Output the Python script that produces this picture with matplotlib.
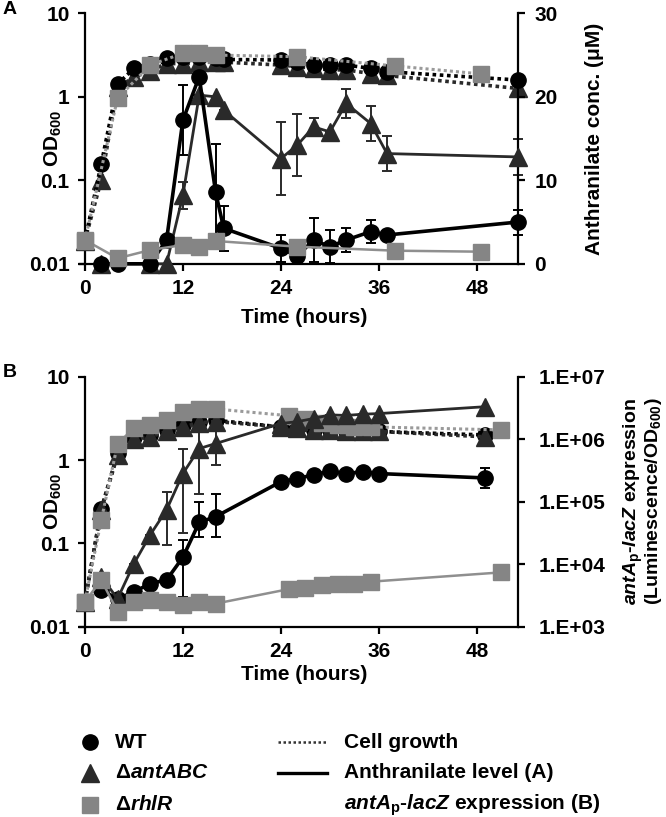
import matplotlib
matplotlib.use('Agg')
import matplotlib.pyplot as plt
from matplotlib.lines import Line2D
from matplotlib.ticker import FixedLocator, FixedFormatter, NullLocator

plt.rcParams['font.family'] = ['Liberation Sans', 'DejaVu Sans']
plt.rcParams['font.weight'] = 'bold'
plt.rcParams['mathtext.fontset'] = 'custom'
plt.rcParams['mathtext.rm'] = 'Liberation Sans:bold'
plt.rcParams['mathtext.it'] = 'Liberation Sans:italic:bold'
plt.rcParams['mathtext.bf'] = 'Liberation Sans:bold'
plt.rcParams['mathtext.default'] = 'rm'

# ---------------- Panel A data ----------------
tA_od = [0, 2, 4, 6, 8, 10, 12, 14, 16, 17, 24, 26, 28, 30, 32, 35, 37, 53]
odA_wt = [0.019, 0.157, 1.42, 2.19, 2.5, 2.89, 3.0, 3.0, 2.9, 2.8, 2.76, 2.6, 2.4, 2.4, 2.4, 2.19, 2.0, 1.59]
odA_ant = [0.019, 0.10, 1.3, 1.71, 2.06, 2.5, 2.5, 2.6, 2.6, 2.6, 2.4, 2.3, 2.2, 2.1, 2.1, 1.9, 1.8, 1.26]
tA_rhl_od = [0, 4, 8, 12, 14, 16, 26, 38, 48.5]
odA_rhl = [0.019, 0.96, 2.4, 3.32, 3.32, 3.16, 3.02, 2.34, 1.88]

tA_wt_an = [2, 4, 8, 10, 12, 14, 16, 17, 24, 26, 28, 30, 32, 35, 37, 53]
anA_wt = [0, 0, 0, 2.85, 17.2, 22.4, 8.6, 4.25, 1.85, 0.93, 2.85, 2.05, 2.85, 3.85, 3.45, 5.0]
errA_wt = [0, 0, 0, 0, 4.2, 0, 5.7, 2.7, 1.6, 0, 2.6, 2.0, 1.4, 1.4, 0, 1.5]
tA_ant_an = [2, 8, 10, 12, 14, 16, 17, 24, 26, 28, 30, 32, 35, 37, 53]
anA_ant = [0, 0, 0, 8.2, 20.2, 20.0, 18.4, 12.6, 14.2, 16.4, 15.8, 19.2, 16.8, 13.2, 12.8]
errA_ant = [0, 0, 0, 1.6, 0, 0, 0, 4.4, 3.7, 1.1, 0, 1.7, 2.1, 2.1, 2.2]
tA_rhl_an = [0, 4, 8, 12, 14, 16, 26, 38, 48.5]
anA_rhl = [2.85, 0.66, 1.65, 2.25, 2.05, 2.73, 2.05, 1.57, 1.45]

# ---------------- Panel B data ----------------
tB = [0, 2, 4, 6, 8, 10, 12, 14, 16, 24, 26, 28, 30, 32, 34, 36, 49]
odB_wt = [0.02, 0.26, 1.2, 1.9, 2.0, 2.3, 2.6, 2.9, 3.0, 2.5, 2.4, 2.3, 2.3, 2.2, 2.2, 2.2, 2.0]
odB_ant = [0.02, 0.25, 1.15, 1.8, 1.9, 2.2, 2.5, 2.8, 2.9, 2.5, 2.4, 2.3, 2.3, 2.2, 2.2, 2.2, 1.9]
tB_rhl = [0, 2, 4, 6, 8, 10, 12, 14, 16, 25, 27, 29, 31, 33, 35, 51]
odB_rhl = [0.02, 0.19, 1.55, 2.4, 2.6, 3.0, 3.75, 4.1, 4.1, 3.4, 3.1, 2.8, 2.6, 2.5, 2.5, 2.3]

tB_expr = [2, 4, 6, 8, 10, 12, 14, 16, 24, 26, 28, 30, 32, 34, 36, 49]
exB_wt = [3900, 2800, 3600, 4900, 5600, 12900, 46800, 57500, 209000, 234000, 269000, 309000, 282000, 302000, 282000, 240000]
exB_wt_lo = [0, 0, 0, 0, 0, 9900, 20000, 30000, 0, 0, 0, 0, 0, 0, 0, 74000]
exB_wt_hi = [0, 0, 0, 0, 0, 11100, 53000, 74000, 0, 0, 0, 0, 0, 0, 0, 107000]
exB_ant = [6300, 2800, 10200, 29500, 74000, 282000, 708000, 851000, 1780000, 1910000, 2140000, 2450000, 2400000, 2510000, 2570000, 3310000]
exB_ant_lo = [0, 0, 0, 0, 53600, 250000, 576000, 471000, 0, 0, 0, 0, 0, 0, 0, 0]
exB_ant_hi = [0, 0, 0, 0, 71000, 426000, 770000, 630000, 0, 0, 0, 0, 0, 0, 0, 0]
exB_rhl = [2500, 5600, 1740, 2500, 2700, 2500, 2240, 2500, 2340, 4000, 4170, 4570, 4900, 4900, 5250, 7400]

xticks = [0, 12, 24, 36, 48]
od_ticks = [0.01, 0.1, 1, 10]
od_labels = ['0.01', '0.1', '1', '10']
anth_ticks = [0, 10, 20, 30]
expr_ticks = [1e3, 1e4, 1e5, 1e6, 1e7]
expr_labels = ['1.E+03', '1.E+04', '1.E+05', '1.E+06', '1.E+07']

C_WT = '#000000'
C_ANT = '#2a2a2a'
C_RHL = '#858585'
FS = 15

W, H = 666, 817
fig = plt.figure(figsize=(W / 100, H / 100), dpi=100)


def fx(px):
    return px / W


def fy(py):
    return 1 - py / H


axA = fig.add_axes([fx(80), fy(263.8), fx(437.7), 250.5 / H])
axB = fig.add_axes([fx(80), fy(626.7), fx(437.7), 250 / H])


def style_main(ax):
    ax.set_xlim(-0.6, 53)
    ax.set_yscale('log')
    ax.set_ylim(0.01, 10)
    ax.spines['top'].set_visible(False)
    ax.spines['right'].set_visible(False)
    ax.spines['left'].set_position(('data', 0))
    for s in ('left', 'bottom'):
        ax.spines[s].set_linewidth(1.6)
    ax.xaxis.set_major_locator(FixedLocator(xticks))
    ax.yaxis.set_major_locator(FixedLocator(od_ticks))
    ax.yaxis.set_major_formatter(FixedFormatter(od_labels))
    ax.yaxis.set_minor_locator(NullLocator())
    ax.tick_params(axis='both', which='major', direction='out', length=5,
                   width=1.6, labelsize=FS, pad=6)
    for lab in ax.get_xticklabels() + ax.get_yticklabels():
        lab.set_fontweight('bold')


def style_twin(ax2):
    for s in ('left', 'top', 'bottom'):
        ax2.spines[s].set_visible(False)
    ax2.spines['right'].set_linewidth(1.6)
    ax2.tick_params(axis='y', which='major', direction='out', length=5,
                    width=1.6, labelsize=FS)
    ax2.tick_params(axis='y', which='minor', length=0)


style_main(axA)
style_main(axB)

dot = (0, (1, 1))

# ---- Panel A: OD (dotted) ----
axA.plot(tA_od, odA_ant, ls=dot, lw=2.6, color=C_ANT, marker='^', ms=13,
         mec=C_ANT, mfc=C_ANT, zorder=3, clip_on=False)
axA.plot(tA_od, odA_wt, ls=dot, lw=2.6, color=C_WT, marker='o', ms=11,
         mec=C_WT, mfc=C_WT, zorder=4, clip_on=False)
axA.plot(tA_rhl_od, odA_rhl, ls=dot, lw=2.2, color='#9a9a9a', marker='s', ms=11,
         mec=C_RHL, mfc=C_RHL, zorder=5, clip_on=False)

# ---- Panel A: anthranilate (solid, right axis) ----
axA2 = axA.twinx()
style_twin(axA2)
axA2.set_xlim(-0.6, 53)
axA2.set_ylim(0, 30)
axA2.yaxis.set_major_locator(FixedLocator(anth_ticks))
axA2.tick_params(axis='y', pad=7)
for lab in axA2.get_yticklabels():
    lab.set_fontweight('bold')

axA2.errorbar(tA_ant_an, anA_ant, yerr=errA_ant, fmt='none', ecolor=C_ANT,
              elinewidth=1.4, capsize=3.5, capthick=1.4, zorder=2, clip_on=False)
axA2.errorbar(tA_wt_an, anA_wt, yerr=errA_wt, fmt='none', ecolor=C_WT,
              elinewidth=1.4, capsize=3.5, capthick=1.4, zorder=2, clip_on=False)
axA2.plot(tA_ant_an, anA_ant, '-', lw=2.0, color=C_ANT, marker='^', ms=13,
          mec=C_ANT, mfc=C_ANT, zorder=3, clip_on=False)
axA2.plot(tA_wt_an, anA_wt, '-', lw=2.6, color=C_WT, marker='o', ms=11,
          mec=C_WT, mfc=C_WT, zorder=4, clip_on=False)
axA2.plot(tA_rhl_an, anA_rhl, '-', lw=1.8, color='#8f8f8f', marker='s', ms=11,
          mec=C_RHL, mfc=C_RHL, zorder=5, clip_on=False)

# ---- Panel B: OD (dotted) ----
axB.plot(tB, odB_wt, ls=dot, lw=2.6, color=C_WT, marker='o', ms=11,
         mec=C_WT, mfc=C_WT, zorder=3, clip_on=False)
axB.plot(tB, odB_ant, ls=dot, lw=2.6, color=C_ANT, marker='^', ms=13,
         mec=C_ANT, mfc=C_ANT, zorder=4, clip_on=False)
axB.plot(tB_rhl, odB_rhl, ls=dot, lw=2.2, color='#9a9a9a', marker='s', ms=11,
         mec=C_RHL, mfc=C_RHL, zorder=5, clip_on=False)

# ---- Panel B: expression (solid, right axis) ----
axB2 = axB.twinx()
style_twin(axB2)
axB2.set_xlim(-0.6, 53)
axB2.set_yscale('log')
axB2.set_ylim(1e3, 1e7)
axB2.yaxis.set_major_locator(FixedLocator(expr_ticks))
axB2.yaxis.set_major_formatter(FixedFormatter(expr_labels))
axB2.yaxis.set_minor_locator(NullLocator())
axB2.tick_params(axis='y', pad=10)
for lab in axB2.get_yticklabels():
    lab.set_fontweight('bold')

axB2.errorbar(tB_expr, exB_wt, yerr=[exB_wt_lo, exB_wt_hi], fmt='none', ecolor=C_WT,
              elinewidth=1.4, capsize=3.5, capthick=1.4, zorder=2)
axB2.errorbar(tB_expr, exB_ant, yerr=[exB_ant_lo, exB_ant_hi], fmt='none', ecolor=C_ANT,
              elinewidth=1.4, capsize=3.5, capthick=1.4, zorder=2)
axB2.plot(tB_expr, exB_wt, '-', lw=2.6, color=C_WT, marker='o', ms=11,
          mec=C_WT, mfc=C_WT, zorder=3, clip_on=False)
axB2.plot(tB_expr, exB_ant, '-', lw=2.0, color=C_ANT, marker='^', ms=13,
          mec=C_ANT, mfc=C_ANT, zorder=4, clip_on=False)
axB2.plot(tB_rhl, exB_rhl, '-', lw=1.8, color='#8f8f8f', marker='s', ms=11,
          mec=C_RHL, mfc=C_RHL, zorder=5, clip_on=False)

# ---- axis labels ----
for cy in (138.5, 501.7):
    fig.text(fx(53), fy(cy), r'OD$_{600}$', rotation=90, ha='center', va='center',
             fontsize=FS, fontweight='bold')
fig.text(fx(304), fy(318), 'Time (hours)', ha='center', va='center', fontsize=FS, fontweight='bold')
fig.text(fx(304), fy(675), 'Time (hours)', ha='center', va='center', fontsize=FS, fontweight='bold')
fig.text(fx(594), fy(138.5), 'Anthranilate conc. (μM)', rotation=90, ha='center', va='center',
         fontsize=FS, fontweight='bold')
fig.text(fx(643), fy(501.7),
         r'$\mathit{antA}_\mathrm{p}$-$\mathit{lacZ}$ expression' + '\n' + r'(Luminescence/OD$_{600}$)',
         rotation=90, ha='center', va='center', multialignment='center', linespacing=0.82,
         fontsize=14, fontweight='bold')
fig.text(fx(3), fy(10), 'A', ha='left', va='center', fontsize=FS - 1, fontweight='bold')
fig.text(fx(3), fy(373), 'B', ha='left', va='center', fontsize=FS - 1, fontweight='bold')

# ---- legend ----
rows = [742, 773, 805]
leg_series = [('o', 11, C_WT, 'WT'),
              ('^', 13, C_ANT, r'Δ$\mathit{antABC}$'),
              ('s', 11, C_RHL, r'Δ$\mathit{rhlR}$')]
for py, (m, ms, c, lab) in zip(rows, leg_series):
    fig.add_artist(Line2D([fx(90)], [fy(py)], marker=m, ms=ms, color=c, mec=c, mfc=c,
                          ls='none', transform=fig.transFigure))
    fig.text(fx(115), fy(py), lab, ha='left', va='center', fontsize=FS, fontweight='bold')

fig.add_artist(Line2D([fx(278), fx(327)], [fy(rows[0])] * 2, ls=dot, lw=1.8, color='#333333',
                      transform=fig.transFigure))
fig.add_artist(Line2D([fx(278), fx(327)], [fy(rows[1])] * 2, ls='-', lw=2.4, color='#000000',
                      transform=fig.transFigure))
leg_lines = ['Cell growth', 'Anthranilate level (A)',
             r'$\mathit{antA}_\mathrm{p}$-$\mathit{lacZ}$ expression (B)']
for py, lab in zip(rows, leg_lines):
    fig.text(fx(344), fy(py), lab, ha='left', va='center', fontsize=FS, fontweight='bold')

fig.savefig('out.png', dpi=100)
